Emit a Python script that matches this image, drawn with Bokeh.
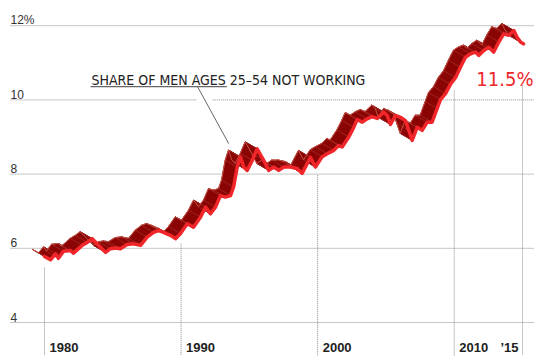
from bokeh.plotting import figure
from bokeh.models import Range1d, ColumnDataSource
from bokeh.embed import file_html
from bokeh.resources import INLINE
from bokeh.core.properties import value
import numpy as np

# ---------------- data ----------------
years = [1980.0, 1980.44, 1980.81, 1981.02, 1981.39, 1981.90, 1982.12, 1982.76, 1983.13, 1983.49,
         1984.10, 1984.47, 1984.83, 1985.20, 1985.56, 1986.05, 1986.52, 1987.03, 1987.52, 1987.98,
         1988.35, 1988.71, 1989.22, 1989.59, 1989.96, 1990.45, 1990.91, 1991.42, 1991.79, 1992.15,
         1992.52, 1992.88, 1993.25, 1993.62, 1993.84, 1994.11, 1994.35, 1994.59, 1994.84, 1995.21,
         1995.57, 1996.05, 1996.42, 1996.79, 1997.15, 1997.52, 1998.01, 1998.50, 1998.86, 1999.47,
         1999.84, 2000.33, 2000.70, 2001.18, 2001.54, 2001.79, 2002.28, 2002.64, 2002.89, 2003.26,
         2003.62, 2003.99, 2004.36, 2004.84, 2005.09, 2005.33, 2005.70, 2006.06, 2006.43, 2006.67,
         2006.92, 2007.28, 2007.65, 2008.02, 2008.38, 2008.75, 2008.99, 2009.36, 2009.72, 2010.09,
         2010.45, 2010.82, 2011.19, 2011.55, 2011.79, 2012.16, 2012.53, 2012.89, 2013.26, 2013.62,
         2013.99, 2014.36, 2014.60, 2014.85, 2015.07]
share = [5.78, 5.69, 5.85, 5.73, 5.92, 5.94, 5.87, 6.08, 6.16, 6.26,
         6.03, 5.89, 5.99, 6.01, 5.99, 6.10, 6.12, 6.08, 6.30, 6.43,
         6.48, 6.43, 6.35, 6.26, 6.40, 6.66, 6.57, 6.84, 7.11, 6.93,
         7.11, 7.42, 7.38, 7.42, 7.65, 8.19, 8.46, 8.19, 8.10, 8.37,
         8.68, 8.37, 8.10, 8.19, 8.10, 8.19, 8.19, 8.15, 8.02, 8.45,
         8.19, 8.47, 8.55, 8.64, 8.77, 8.73, 9.00, 9.26, 9.47, 9.40,
         9.49, 9.55, 9.50, 9.67, 9.58, 9.34, 9.58, 9.53, 9.44, 9.18,
         8.91, 9.26, 9.18, 9.40, 9.40, 9.77, 10.01, 10.17, 10.42, 10.60,
         10.88, 11.15, 11.24, 11.29, 11.20, 11.33, 11.42, 11.29, 11.56, 11.78,
         11.74, 11.87, 11.69, 11.56, 11.51]

tick_years = [1980, 1990, 2000, 2010, 2015]
tick_labels = ["1980", "1990", "2000", "2010", "\u201915"]
y_ticks = [4, 6, 8, 10, 12]
y_tick_labels = ["4", "6", "8", "10", "12%"]
title_text = "SHARE OF MEN AGES 25\u201354 NOT WORKING"
last_label = "11.5%"

# ---------------- layout ----------------
W, H = 545, 360
X0, X1 = 1976.78, 2016.68
Y0, Y1 = 2.976, 12.679
ux = (X1 - X0) / W   # years per pixel
uy = (Y1 - Y0) / H   # percent per pixel

p = figure(width=W, height=H, x_range=Range1d(X0, X1), y_range=Range1d(Y0, Y1),
           output_backend="svg", toolbar_location=None, min_border=0,
           x_axis_location=None, y_axis_location=None)
p.grid.visible = False
p.outline_line_color = None
p.background_fill_color = "white"
p.border_fill_color = "white"

GRID = "#8c8c8c"
DASH = "1 1"
NARROW = "DejaVu Sans Condensed"

# leader line (annotation)
lead_x = [1991.20, 1993.49]
lead_y = [10.36, 8.82]

# horizontal gridlines
gx0 = X0 + 10 * ux
gx1 = X1 - 12 * ux
for yv in y_ticks:
    if yv == 10:
        t = (lead_y[0] - yv) / (lead_y[0] - lead_y[1])
        xc = lead_x[0] + t * (lead_x[1] - lead_x[0])
        p.segment(x0=[gx0, xc + 8 * ux], x1=[xc - 8 * ux, gx1], y0=[yv, yv], y1=[yv, yv],
                  line_color=GRID, line_width=1, line_dash=DASH)
    else:
        p.segment(x0=[gx0], x1=[gx1], y0=[yv], y1=[yv],
                  line_color=GRID, line_width=1, line_dash=DASH)

# y labels
ysrc = ColumnDataSource(dict(x=[gx0] * len(y_ticks), y=[v + 5.5 * uy for v in y_ticks], t=y_tick_labels))
p.text(x="x", y="y", text="t", source=ysrc, text_font=value("Liberation Sans"),
       text_font_size="12px", text_color="#333333", text_baseline="alphabetic", text_align="left")

# label for last value
lab_x = X1 - 12 * ux
lab_y = 10.55

# vertical lines
yr = np.array(years)
sh = np.array(share)
tops = []
for ty in tick_years:
    top = float(np.interp(ty, yr, sh)) - 0.3
    top = min(top, lab_y - 6 * uy)
    tops.append(top)
p.segment(x0=tick_years, x1=tick_years, y0=tops, y1=[Y0 + 5 * uy] * len(tick_years),
          line_color=GRID, line_width=1, line_dash=DASH)

# x labels
xlab_y = 3.33
xl_x = [ty + 5 * ux for ty in tick_years[:-1]]
p.text(x=xl_x, y=[xlab_y] * len(xl_x), text=tick_labels[:-1], text_font=value("Liberation Sans"),
       text_font_size="13px", text_font_style="bold", text_color="#222222",
       text_baseline="alphabetic", text_align="left")
p.text(x=[tick_years[-1] - 4 * ux], y=[xlab_y], text=[tick_labels[-1]], text_font=value("Liberation Sans"),
       text_font_size="13px", text_font_style="bold", text_color="#222222",
       text_baseline="alphabetic", text_align="right")

# ---------------- 3D ribbon ----------------
dx = -12 * ux
dy = 7 * uy
bx = yr + dx
by = sh + dy
xs, ys = [], []
for i in range(len(yr) - 1):
    xs.append([yr[i], yr[i + 1], bx[i + 1], bx[i]])
    ys.append([sh[i], sh[i + 1], by[i + 1], by[i]])
p.patches(xs=xs, ys=ys, fill_color="#8b0404", line_color="#8b0404", line_width=1)
# connector edges
p.segment(x0=list(yr), y0=list(sh), x1=list(bx), y1=list(by), line_color="#b8483c", line_width=0.7, line_alpha=0.6)
# back edge
p.line(list(bx), list(by), line_color="#c45446", line_width=1)
# front line
p.line(years, share, line_color="#f0262a", line_width=3.5, line_join="round", line_cap="round")

# title annotation with underline and leader
p.text(x=[1983.44], y=[10.54], text=[title_text], text_font=value(NARROW),
       text_font_size="14px", text_color="#222222", text_baseline="alphabetic", text_align="left")
p.segment(x0=[1983.37], x1=[1993.35], y0=[lead_y[0]], y1=[lead_y[0]], line_color="#666666", line_width=1.3)
p.line(lead_x, lead_y, line_color="#666666", line_width=1)

# value label
p.text(x=[lab_x], y=[lab_y], text=[last_label], text_font=value(NARROW),
       text_font_size="20px", text_color="#f0262a", text_baseline="alphabetic", text_align="right")

open("out.html", "w").write(file_html(p, INLINE))
